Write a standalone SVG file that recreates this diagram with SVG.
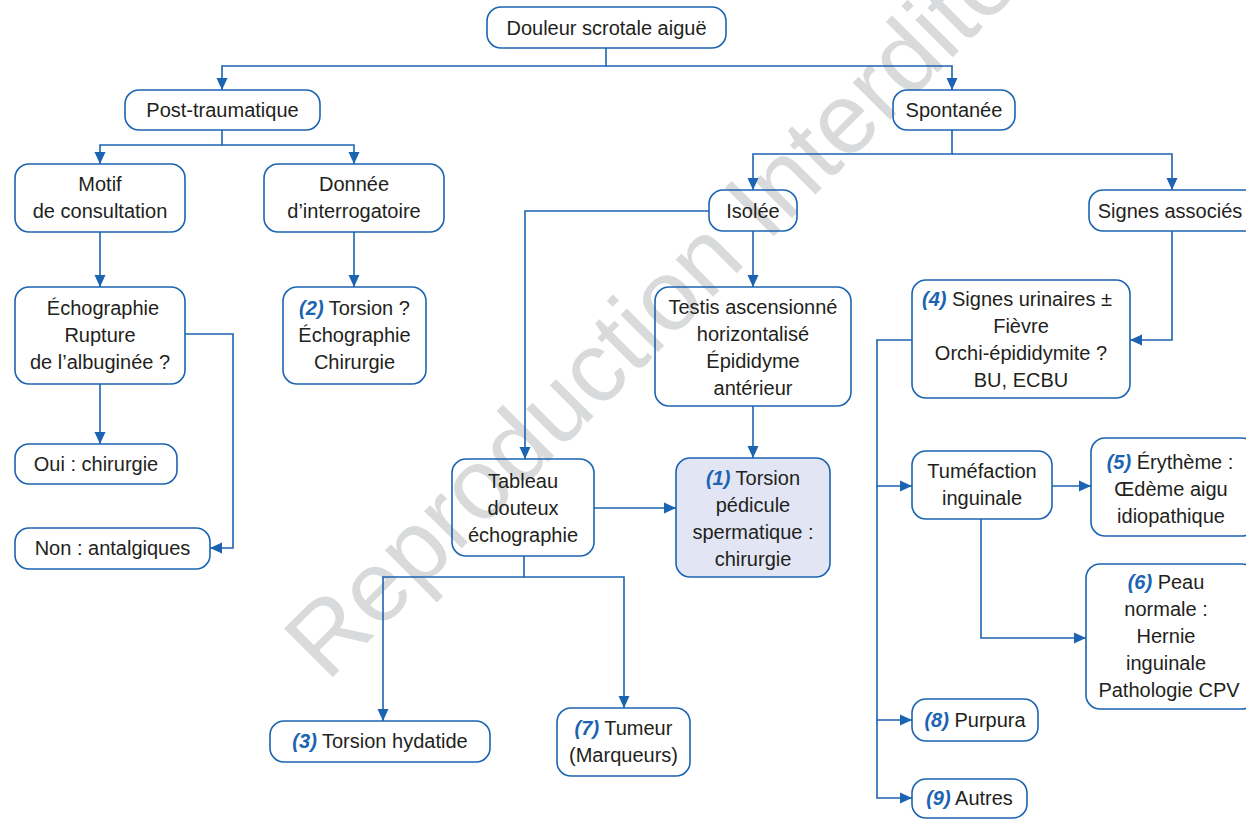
<svg xmlns="http://www.w3.org/2000/svg" width="1246" height="819" viewBox="0 0 1246 819">
  <style>
    .box { fill: none; stroke: #1b64b2; stroke-width: 1.6; }
    .hl { fill: #e2e6f4; }
    .t { font-family: "Liberation Sans", Arial, sans-serif; font-size: 20px; fill: #231f20; text-anchor: middle; }
    .n { font-weight: bold; font-style: italic; fill: #1b64b2; }
    .c { fill: none; stroke: #1b64b2; stroke-width: 1.6; marker-end: url(#arr); }
    .wm { font-family: "Liberation Sans", Arial, sans-serif; font-size: 100px; fill: #d9dadb; }
  </style>
  <defs>
    <marker id="arr" markerUnits="userSpaceOnUse" markerWidth="14" markerHeight="14" viewBox="0 0 14 14" refX="13" refY="7" orient="auto">
      <path d="M1,1.5 L13,7 L1,12.5 Z" fill="#1b64b2"/>
    </marker>
  </defs>

  <!-- background watermark -->
  <text class="wm" transform="translate(327,683) rotate(-45)">Reproduction Interdite</text>

  <!-- connectors -->
  <g id="connectors">
    <path class="c" d="M606,48 V66 H222 V90"/>
    <path class="c" d="M606,66 H952 V90"/>
    <path class="c" d="M222,130 V145 H100 V164"/>
    <path class="c" d="M222,145 H354 V164"/>
    <path class="c" d="M100,232 V287"/>
    <path class="c" d="M354,232 V287"/>
    <path class="c" d="M100,384 V444"/>
    <path class="c" d="M185,334 H233 V548 H210"/>
    <path class="c" d="M952,130 V154 H753 V190"/>
    <path class="c" d="M952,154 H1172 V190"/>
    <path class="c" d="M709,211 H525 V459"/>
    <path class="c" d="M753,231 V287"/>
    <path class="c" d="M753,406 V458"/>
    <path class="c" d="M594,508 H676"/>
    <path class="c" d="M524,556 V577 H383 V721"/>
    <path class="c" d="M524,577 H624 V708"/>
    <path class="c" d="M1172,231 V340 H1130"/>
    <path class="c" d="M912,340 H877 V486 H912"/>
    <path class="c" d="M877,486 V720 H912"/>
    <path class="c" d="M877,720 V798 H912"/>
    <path class="c" d="M1052,486 H1091"/>
    <path class="c" d="M981,519 V638 H1086"/>
  </g>

  <!-- nodes -->
  <g id="n-douleur">
    <rect class="box" x="487" y="7" width="239" height="41" rx="14"/>
    <text class="t" x="606.5" y="35">Douleur scrotale aiguë</text>
  </g>
  <g id="n-post">
    <rect class="box" x="125" y="90" width="195" height="40" rx="14"/>
    <text class="t" x="222.5" y="117">Post-traumatique</text>
  </g>
  <g id="n-spont">
    <rect class="box" x="893" y="90" width="122" height="40" rx="14"/>
    <text class="t" x="954" y="117">Spontanée</text>
  </g>
  <g id="n-motif">
    <rect class="box" x="15" y="164" width="170" height="68" rx="14"/>
    <text class="t" x="100" y="191">Motif</text>
    <text class="t" x="100" y="218">de consultation</text>
  </g>
  <g id="n-donnee">
    <rect class="box" x="264" y="164" width="180" height="68" rx="14"/>
    <text class="t" x="354" y="191">Donnée</text>
    <text class="t" x="354" y="218">d’interrogatoire</text>
  </g>
  <g id="n-echo">
    <rect class="box" x="15" y="287" width="170" height="97" rx="14"/>
    <text class="t" x="103" y="315">Échographie</text>
    <text class="t" x="100" y="342">Rupture</text>
    <text class="t" x="100" y="369">de l’albuginée ?</text>
  </g>
  <g id="n-2">
    <rect class="box" x="283" y="287" width="143" height="97" rx="14"/>
    <text class="t" x="354.5" y="315"><tspan class="n">(2)</tspan> Torsion ?</text>
    <text class="t" x="354.5" y="342">Échographie</text>
    <text class="t" x="354.5" y="369">Chirurgie</text>
  </g>
  <g id="n-oui">
    <rect class="box" x="15" y="444" width="162" height="40" rx="14"/>
    <text class="t" x="96" y="471">Oui : chirurgie</text>
  </g>
  <g id="n-non">
    <rect class="box" x="15" y="528" width="195" height="41" rx="14"/>
    <text class="t" x="112.5" y="555">Non : antalgiques</text>
  </g>
  <g id="n-isolee">
    <rect class="box" x="709" y="190" width="88" height="41" rx="14"/>
    <text class="t" x="753" y="218">Isolée</text>
  </g>
  <g id="n-signes">
    <rect class="box" x="1089" y="190" width="170" height="41" rx="14"/>
    <text class="t" x="1170" y="218">Signes associés</text>
  </g>
  <g id="n-testis">
    <rect class="box" x="655" y="287" width="196" height="119" rx="14"/>
    <text class="t" x="753" y="314">Testis ascensionné</text>
    <text class="t" x="753" y="341">horizontalisé</text>
    <text class="t" x="753" y="368">Épididyme</text>
    <text class="t" x="753" y="395">antérieur</text>
  </g>
  <g id="n-4">
    <rect class="box" x="912" y="280" width="218" height="118" rx="14"/>
    <text class="t" x="1017" y="306"><tspan class="n">(4)</tspan> Signes urinaires ±</text>
    <text class="t" x="1021" y="333">Fièvre</text>
    <text class="t" x="1021" y="360">Orchi-épididymite ?</text>
    <text class="t" x="1021" y="387">BU, ECBU</text>
  </g>
  <g id="n-tableau">
    <rect class="box" x="452" y="459" width="142" height="97" rx="14"/>
    <text class="t" x="523" y="488">Tableau</text>
    <text class="t" x="523" y="515">douteux</text>
    <text class="t" x="523" y="542">échographie</text>
  </g>
  <g id="n-1">
    <rect class="box hl" x="676" y="458" width="154" height="119" rx="14"/>
    <text class="t" x="753" y="485"><tspan class="n">(1)</tspan> Torsion</text>
    <text class="t" x="753" y="512">pédicule</text>
    <text class="t" x="753" y="539">spermatique :</text>
    <text class="t" x="753" y="566">chirurgie</text>
  </g>
  <g id="n-tumef">
    <rect class="box" x="912" y="451" width="140" height="68" rx="14"/>
    <text class="t" x="982" y="478">Tuméfaction</text>
    <text class="t" x="982" y="505">inguinale</text>
  </g>
  <g id="n-5">
    <rect class="box" x="1091" y="438" width="165" height="98" rx="14"/>
    <text class="t" x="1170" y="469"><tspan class="n">(5)</tspan> Érythème :</text>
    <text class="t" x="1171" y="496">Œdème aigu</text>
    <text class="t" x="1171" y="523">idiopathique</text>
  </g>
  <g id="n-6">
    <rect class="box" x="1086" y="564" width="170" height="145" rx="14"/>
    <text class="t" x="1166" y="589"><tspan class="n">(6)</tspan> Peau</text>
    <text class="t" x="1166" y="616">normale :</text>
    <text class="t" x="1166" y="643">Hernie</text>
    <text class="t" x="1166" y="670">inguinale</text>
    <text class="t" x="1169" y="697">Pathologie CPV</text>
  </g>
  <g id="n-8">
    <rect class="box" x="912" y="699" width="126" height="42" rx="14"/>
    <text class="t" x="975" y="727"><tspan class="n">(8)</tspan> Purpura</text>
  </g>
  <g id="n-9">
    <rect class="box" x="912" y="779" width="115" height="39" rx="14"/>
    <text class="t" x="969.5" y="805"><tspan class="n">(9)</tspan> Autres</text>
  </g>
  <g id="n-3">
    <rect class="box" x="270" y="721" width="220" height="41" rx="14"/>
    <text class="t" x="380" y="748"><tspan class="n">(3)</tspan> Torsion hydatide</text>
  </g>
  <g id="n-7">
    <rect class="box" x="557" y="708" width="133" height="68" rx="14"/>
    <text class="t" x="623.5" y="735"><tspan class="n">(7)</tspan> Tumeur</text>
    <text class="t" x="623.5" y="762">(Marqueurs)</text>
  </g>
</svg>
